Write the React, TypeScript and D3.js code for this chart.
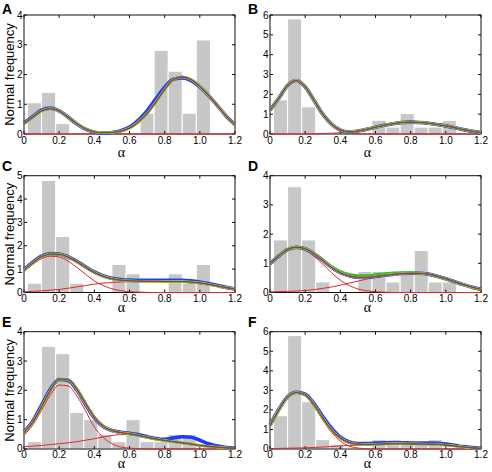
import React from 'react';
import * as d3 from 'd3';

// sample grid for the fitted densities (alpha)
const alphaGrid = [0, 0.05, 0.1, 0.15, 0.2, 0.25, 0.3, 0.35, 0.4, 0.45, 0.5, 0.55, 0.6,
  0.65, 0.7, 0.75, 0.8, 0.85, 0.9, 0.95, 1.0, 1.05, 1.1, 1.15, 1.2];

// histogram bins
const binCenters = [0.06, 0.14, 0.22, 0.3, 0.38, 0.46, 0.54, 0.62, 0.7, 0.78, 0.86, 0.94, 1.02];
const binWidth = 0.08;

const xTicks = [0, 0.2, 0.4, 0.6, 0.8, 1.0, 1.2];
const xTickLabels = ['0', '0.2', '0.4', '0.6', '0.8', '1.0', '1.2'];

// A
const histA = [1.05, 1.4, 0.35, 0, 0, 0, 0, 0, 0.7, 2.81, 2.11, 0.7, 3.16];
const fitA = [0.35, 0.57, 0.78, 0.85, 0.77, 0.57, 0.35, 0.17, 0.07, 0.04, 0.05, 0.1, 0.2,
  0.4, 0.69, 1.08, 1.5, 1.83, 1.92, 1.83, 1.6, 1.3, 0.95, 0.6, 0.3];
const blueA = [0.37, 0.59, 0.8, 0.87, 0.78, 0.57, 0.34, 0.16, 0.06, 0.03, 0.05, 0.11, 0.23,
  0.46, 0.78, 1.18, 1.57, 1.84, 1.88, 1.79, 1.58, 1.29, 0.95, 0.6, 0.32];
const compA1 = [0.35, 0.57, 0.78, 0.85, 0.77, 0.57, 0.35, 0.16, 0.06, 0.02, 0, 0, 0,
  0, 0, 0, 0, 0, 0, 0, 0, 0, 0, 0, 0];
const compA2 = [0, 0, 0, 0, 0, 0, 0, 0.01, 0.01, 0.02, 0.05, 0.1, 0.2,
  0.4, 0.69, 1.08, 1.5, 1.83, 1.92, 1.83, 1.6, 1.3, 0.95, 0.6, 0.3];

// B
const histB = [1.72, 5.8, 1.37, 0, 0, 0, 0, 0.69, 0.35, 1.03, 0.35, 0.35, 0.69];
const fitB = [1.2, 1.8, 2.45, 2.7, 2.38, 1.7, 1.0, 0.5, 0.2, 0.1, 0.15, 0.24, 0.34,
  0.44, 0.52, 0.58, 0.6, 0.58, 0.54, 0.48, 0.41, 0.32, 0.22, 0.14, 0.07];
const compB1 = [1.2, 1.8, 2.45, 2.7, 2.38, 1.7, 0.98, 0.46, 0.14, 0.04, 0.01, 0, 0,
  0, 0, 0, 0, 0, 0, 0, 0, 0, 0, 0, 0];
const compB2 = [0, 0, 0, 0, 0, 0.01, 0.02, 0.04, 0.06, 0.07, 0.14, 0.24, 0.34,
  0.44, 0.52, 0.58, 0.6, 0.58, 0.54, 0.48, 0.41, 0.32, 0.22, 0.14, 0.07];

// C
const histC = [0.4, 4.8, 2.4, 0.4, 0, 0, 1.2, 0.8, 0, 0, 0.8, 0.4, 1.2];
const fitC = [0.95, 1.27, 1.53, 1.65, 1.64, 1.52, 1.32, 1.08, 0.86, 0.7, 0.59, 0.53, 0.5,
  0.49, 0.48, 0.48, 0.47, 0.47, 0.47, 0.45, 0.41, 0.35, 0.28, 0.21, 0.15];
const blueC = [0.98, 1.3, 1.56, 1.67, 1.65, 1.53, 1.34, 1.1, 0.88, 0.72, 0.61, 0.56, 0.53,
  0.52, 0.52, 0.52, 0.52, 0.52, 0.52, 0.5, 0.45, 0.38, 0.3, 0.22, 0.15];
const compC1 = [0.9, 1.2, 1.45, 1.55, 1.52, 1.35, 1.08, 0.78, 0.5, 0.3, 0.16, 0.08, 0.035,
  0.015, 0.005, 0, 0, 0, 0, 0, 0, 0, 0, 0, 0];
const compC2 = [0.03, 0.05, 0.07, 0.1, 0.13, 0.18, 0.24, 0.3, 0.36, 0.4, 0.43, 0.45, 0.47,
  0.48, 0.48, 0.48, 0.47, 0.46, 0.44, 0.41, 0.37, 0.32, 0.27, 0.21, 0.15];

// D
const histD = [1.8, 3.62, 1.8, 0.36, 0, 0, 0.72, 0.72, 0.36, 0.72, 1.44, 0.36, 0.36];
const fitD = [0.98, 1.25, 1.47, 1.55, 1.5, 1.33, 1.1, 0.86, 0.68, 0.57, 0.52, 0.52, 0.55,
  0.59, 0.62, 0.65, 0.66, 0.66, 0.63, 0.56, 0.47, 0.37, 0.27, 0.18, 0.11];
const greenD = [0.98, 1.25, 1.47, 1.55, 1.5, 1.34, 1.12, 0.89, 0.72, 0.62, 0.58, 0.58, 0.61,
  0.64, 0.67, 0.68, 0.68, 0.66, 0.62, 0.55, 0.46, 0.36, 0.26, 0.17, 0.1];
const compD1 = [0.95, 1.22, 1.43, 1.5, 1.44, 1.24, 0.97, 0.68, 0.42, 0.24, 0.12, 0.06, 0.025,
  0.01, 0, 0, 0, 0, 0, 0, 0, 0, 0, 0, 0];
const compD2 = [0.02, 0.03, 0.04, 0.05, 0.07, 0.1, 0.14, 0.19, 0.25, 0.32, 0.39, 0.46, 0.52,
  0.57, 0.61, 0.64, 0.66, 0.66, 0.63, 0.56, 0.47, 0.37, 0.27, 0.18, 0.11];

// E
const histE = [0.25, 3.5, 3.25, 1.25, 1.0, 0.5, 0.25, 1.0, 0.25, 0.25, 0.5, 0.5, 0];
const fitE = [0.56, 0.92, 1.45, 2.0, 2.36, 2.36, 2.05, 1.55, 1.08, 0.78, 0.63, 0.56, 0.52,
  0.46, 0.4, 0.34, 0.29, 0.25, 0.21, 0.17, 0.12, 0.09, 0.06, 0.04, 0.03];
const blueE = [0.58, 0.95, 1.5, 2.04, 2.37, 2.34, 2.02, 1.52, 1.06, 0.77, 0.63, 0.57, 0.54,
  0.49, 0.42, 0.36, 0.33, 0.38, 0.42, 0.4, 0.3, 0.18, 0.1, 0.05, 0.03];
const compE1 = [0.47, 0.82, 1.32, 1.85, 2.18, 2.15, 1.82, 1.3, 0.75, 0.4, 0.18, 0.07, 0.03,
  0.01, 0, 0, 0, 0, 0, 0, 0, 0, 0, 0, 0];
const compE2 = [0.08, 0.1, 0.12, 0.15, 0.18, 0.21, 0.25, 0.3, 0.35, 0.41, 0.46, 0.49, 0.49,
  0.45, 0.4, 0.34, 0.29, 0.24, 0.2, 0.16, 0.12, 0.09, 0.06, 0.04, 0.03];

// F
const histF = [1.7, 5.8, 2.42, 0.48, 0.24, 0, 0, 0.48, 0.24, 0.24, 0.24, 0.48, 0];
const fitF = [1.19, 2.0, 2.65, 2.89, 2.77, 2.26, 1.58, 0.99, 0.56, 0.33, 0.25, 0.23, 0.24,
  0.26, 0.27, 0.27, 0.26, 0.26, 0.25, 0.24, 0.2, 0.16, 0.1, 0.06, 0.04];
const blueF = [1.22, 2.02, 2.67, 2.9, 2.8, 2.32, 1.66, 1.06, 0.6, 0.36, 0.28, 0.28, 0.3,
  0.32, 0.33, 0.32, 0.31, 0.3, 0.3, 0.29, 0.25, 0.19, 0.12, 0.07, 0.04];
const compF1 = [1.17, 1.98, 2.63, 2.87, 2.74, 2.2, 1.48, 0.85, 0.4, 0.15, 0.05, 0.01, 0,
  0, 0, 0, 0, 0, 0, 0, 0, 0, 0, 0, 0];
const compF2 = [0.02, 0.03, 0.04, 0.05, 0.06, 0.08, 0.1, 0.13, 0.16, 0.18, 0.2, 0.22, 0.24,
  0.26, 0.27, 0.27, 0.26, 0.26, 0.25, 0.24, 0.2, 0.16, 0.1, 0.06, 0.04];

// overlaid fit curves, widest first so every colour shows at the edges
const bundle = [
  { key: 'blue', color: '#1e3cff', width: 3.6 },
  { key: 'green', color: '#2cbf2c', width: 2.8 },
  { key: 'yellow', color: '#e3d024', width: 2.2 },
  { key: 'orange', color: '#e07f2a', width: 1.6 },
  { key: 'purple', color: '#7d3b86', width: 1.1 },
  { key: 'brown', color: '#6a5134', width: 0.7 },
];

const panels = [
  { letter: 'A', yMax: 4, hist: histA, fit: fitA, variants: { blue: blueA }, comps: [compA1, compA2], col: 0, row: 0 },
  { letter: 'B', yMax: 6, hist: histB, fit: fitB, variants: {}, comps: [compB1, compB2], col: 1, row: 0 },
  { letter: 'C', yMax: 5, hist: histC, fit: fitC, variants: { blue: blueC }, comps: [compC1, compC2], col: 0, row: 1 },
  { letter: 'D', yMax: 4, hist: histD, fit: fitD, variants: { green: greenD }, comps: [compD1, compD2], col: 1, row: 1 },
  { letter: 'E', yMax: 4, hist: histE, fit: fitE, variants: { blue: blueE }, comps: [compE1, compE2], col: 0, row: 2 },
  { letter: 'F', yMax: 6, hist: histF, fit: fitF, variants: { blue: blueF }, comps: [compF1, compF2], col: 1, row: 2 },
];

const colLeft = [24, 270];
const plotW = 211;
const rowTop = [15, 175.7, 331.7];
const rowBottom = [134, 292.5, 449];
const letterBase = [14, 171, 327];
const alphaBase = [157, 312, 468];

const sans = 'Arial, "Liberation Sans", Helvetica, sans-serif';
const serif = '"Times New Roman", "Liberation Serif", serif';

function Panel({ p }: { p: typeof panels[number] }) {
  const left = colLeft[p.col];
  const top = rowTop[p.row];
  const h = rowBottom[p.row] - top;
  const x = d3.scaleLinear().domain([0, 1.2]).range([0, plotW]);
  const y = d3.scaleLinear().domain([0, p.yMax]).range([h, 0]);
  const yTicks = d3.range(0, p.yMax + 1);
  const line = d3.line<number>()
    .x((_, i) => x(alphaGrid[i]))
    .y(d => y(d))
    .curve(d3.curveMonotoneX);
  const tk = 3;

  return (
    <g transform={`translate(${left},${top})`}>
      {p.hist.map((v, i) => v > 0 && (
        <rect key={i}
          x={x(binCenters[i] - binWidth / 2)}
          y={y(v)}
          width={x(binWidth) - x(0)}
          height={y(0) - y(v)}
          fill="#c7c7c7" stroke="#fff" strokeWidth={1} />
      ))}
      <rect x={0} y={0} width={plotW} height={h} fill="none" stroke="#111" strokeWidth={1} />
      {xTicks.map((t, i) => (
        <g key={'x' + i}>
          <line x1={x(t)} x2={x(t)} y1={h} y2={h - tk} stroke="#111" />
          <line x1={x(t)} x2={x(t)} y1={0} y2={tk} stroke="#111" />
          <text x={x(t)} y={h + 9.5} textAnchor="middle" fontSize={10} fontFamily={sans}>{xTickLabels[i]}</text>
        </g>
      ))}
      {yTicks.map(t => (
        <g key={'y' + t}>
          <line x1={0} x2={tk} y1={y(t)} y2={y(t)} stroke="#111" />
          <line x1={plotW} x2={plotW - tk} y1={y(t)} y2={y(t)} stroke="#111" />
          <text x={-1.5} y={y(t)} dy="0.35em" textAnchor="end" fontSize={10} fontFamily={sans}>{t}</text>
        </g>
      ))}
      {p.comps.map((c, i) => (
        <path key={'c' + i} d={line(c) || ''} fill="none" stroke="#e5262a" strokeWidth={1} />
      ))}
      {bundle.map(b => (
        <path key={b.key}
          d={line((p.variants as Record<string, number[]>)[b.key] || p.fit) || ''}
          fill="none" stroke={b.color} strokeWidth={b.width} strokeLinejoin="round" />
      ))}
    </g>
  );
}

export default function App() {
  return (
    <svg width={492} height={472} style={{ position: 'absolute', left: 0, top: 0, background: '#fff' }}>
      <rect width={492} height={472} fill="#fff" />
      {panels.map(p => <Panel key={p.letter} p={p} />)}
      {panels.map(p => (
        <text key={'L' + p.letter} x={p.col === 0 ? 2 : 248} y={letterBase[p.row]}
          fontSize={14} fontWeight="bold" fontFamily={sans}>{p.letter}</text>
      ))}
      {panels.map(p => (
        <text key={'a' + p.letter} x={colLeft[p.col] + plotW / 2 - 8} y={alphaBase[p.row]}
          textAnchor="middle" fontSize={14} fontFamily={serif}>α</text>
      ))}
      {[0, 1, 2].map(r => (
        <text key={'yl' + r} transform={`translate(14,${(rowTop[r] + rowBottom[r]) / 2}) rotate(-90)`}
          textAnchor="middle" fontSize={13} fontFamily={sans}>Normal frequency</text>
      ))}
    </svg>
  );
}
